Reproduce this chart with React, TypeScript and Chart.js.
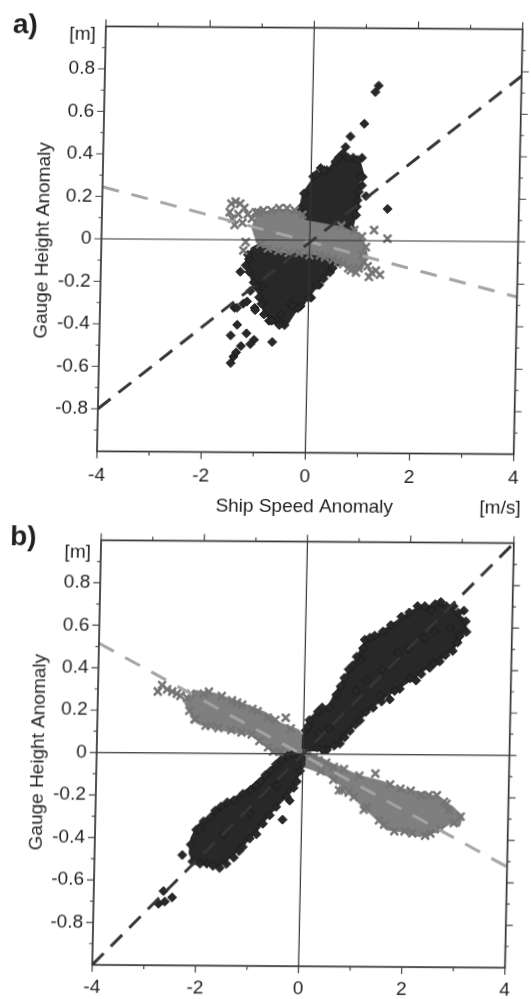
import React, { useEffect, useRef } from 'react';
import { Chart, registerables } from 'chart.js';

Chart.register(...registerables);

type Pt = [number, number];

// ---------- axes / ticks ----------
const xMajorTicks = [-4, -2, 0, 2, 4];
const xMinorTicks = [-3, -1, 1, 3];
const yMajorTicks = [-0.8, -0.6, -0.4, -0.2, 0, 0.2, 0.4, 0.6, 0.8];
const yMinorTicks = [-0.9, -0.7, -0.5, -0.3, -0.1, 0.1, 0.3, 0.5, 0.7, 0.9];

const xAxisTitle = 'Ship Speed Anomaly';
const yAxisTitle = 'Gauge Height Anomaly';
const yUnit = '[m]';
const xUnit = '[m/s]';

// ---------- panel a ----------
const aDarkCloud: Pt[] = [
  [-0.2, 0.14], [-0.14, 0.22], [0.0, 0.27], [0.12, 0.31], [0.3, 0.32], [0.42, 0.36], [0.58, 0.4],
  [0.75, 0.38], [0.92, 0.37], [0.98, 0.32], [0.9, 0.27], [0.93, 0.2], [0.86, 0.12], [0.8, 0.06],
  [0.72, 0.0], [0.6, -0.06], [0.49, -0.12], [0.35, -0.16], [0.23, -0.18], [0.1, -0.23], [0.01, -0.26],
  [-0.1, -0.3], [-0.27, -0.34], [-0.4, -0.39], [-0.65, -0.39], [-0.84, -0.34], [-0.94, -0.26],
  [-1.1, -0.18], [-1.2, -0.1], [-1.1, -0.04], [-0.8, 0.0], [-0.5, 0.05], [-0.3, 0.1],
];
const aDarkPoints: Pt[] = [
  [1.2, 0.7], [1.26, 0.73], [1.0, 0.55], [0.74, 0.49], [0.65, 0.44], [0.46, 0.37], [0.6, 0.41],
  [0.8, 0.39], [0.97, 0.39], [0.99, 0.3], [0.98, 0.26], [0.9, 0.19], [1.06, 0.21], [1.48, 0.15],
  [0.18, 0.34], [0.04, 0.3], [-0.13, 0.22], [-0.2, 0.15], [0.3, 0.33], [0.88, 0.12], [0.82, 0.05],
  [0.1, 0.31], [0.25, 0.33], [0.52, 0.39], [0.7, 0.39], [0.88, 0.38], [0.95, 0.3], [0.92, 0.23],
  [0.89, 0.16], [0.78, 0.06],
  [-1.22, -0.12], [-1.32, -0.15], [-1.16, -0.09], [-1.06, -0.2], [-1.12, -0.24], [-1.42, -0.32],
  [-1.25, -0.3], [-1.03, -0.32], [-0.34, -0.3], [-1.47, -0.58], [-1.42, -0.55], [-1.37, -0.53],
  [-1.28, -0.5], [-1.48, -0.45], [-1.18, -0.44], [-1.03, -0.47], [-1.1, -0.49], [-0.68, -0.48],
  [-1.36, -0.4], [-1.37, -0.32], [-1.18, -0.29], [-1.02, -0.33], [-0.58, -0.38], [-0.52, -0.35],
  [-0.29, -0.31], [0.05, -0.27], [-0.85, -0.35], [-0.75, -0.38], [-0.45, -0.4], [-0.15, -0.31],
  [0.2, -0.21], [0.4, -0.15], [0.55, -0.1], [-0.95, -0.27], [-0.9, -0.22],
  [0.45, -0.13], [0.28, -0.18], [0.15, -0.21], [0.0, -0.27], [-0.2, -0.32], [-0.55, -0.4],
  [-0.7, -0.38], [-0.9, -0.3], [-1.0, -0.22], [-1.15, -0.15], [-1.18, -0.07],
];
const aLightCloud: Pt[] = [
  [-1.1, 0.06], [-1.0, 0.12], [-0.7, 0.14], [-0.45, 0.14], [-0.22, 0.13], [-0.12, 0.09], [0.1, 0.08],
  [0.35, 0.07], [0.6, 0.06], [0.8, 0.04], [0.95, 0.02], [1.05, -0.02], [1.1, -0.08], [1.0, -0.13],
  [0.85, -0.14], [0.7, -0.12], [0.5, -0.09], [0.3, -0.07], [0.0, -0.06], [-0.3, -0.06], [-0.6, -0.05],
  [-0.85, -0.03], [-1.0, -0.01],
];
const aLightPoints: Pt[] = [
  [-1.52, 0.17], [-1.44, 0.18], [-1.35, 0.17], [-1.27, 0.15], [-1.55, 0.13], [-1.5, 0.1], [-1.38, 0.12],
  [-1.2, 0.12], [-1.12, 0.1], [-1.45, 0.07], [-1.3, 0.08], [-1.05, 0.13], [-1.23, -0.01], [-1.27, -0.05],
  [-0.9, 0.14], [-0.6, 0.15], [-0.3, 0.14], [-0.95, -0.02], [-0.6, -0.05], [-0.2, -0.06], [0.2, -0.07],
  [0.45, -0.09], [0.65, -0.11], [0.8, -0.14], [0.95, -0.13], [1.05, -0.1], [1.12, -0.12], [1.2, -0.15],
  [1.28, -0.14], [1.36, -0.16], [1.15, -0.17], [1.08, -0.03], [1.0, 0.02], [1.23, 0.05], [1.49, 0.01],
  [0.85, 0.05], [0.6, 0.07],
  [-1.0, 0.13], [-0.75, 0.14], [-0.45, 0.15], [-0.15, 0.12], [-0.8, -0.04], [-0.4, -0.06], [0.0, -0.07],
  [0.3, -0.08], [0.55, -0.1], [0.75, -0.13], [0.9, -0.15], [1.02, -0.07],
];
const aDarkFit: Pt[] = [[-4, -0.8], [4, 0.78]];
const aLightFit: Pt[] = [[-4, 0.245], [4, -0.26]];

// ---------- panel b ----------
const bDarkCloudUpper: Pt[] = [
  [0.0, 0.08], [0.1, 0.16], [0.27, 0.2], [0.49, 0.23], [0.62, 0.29], [0.8, 0.37], [0.96, 0.43],
  [1.12, 0.51], [1.3, 0.55], [1.5, 0.58], [1.85, 0.64], [2.16, 0.69], [2.4, 0.7], [2.61, 0.71],
  [2.85, 0.68], [3.05, 0.64], [3.1, 0.6], [3.02, 0.56], [2.86, 0.5], [2.61, 0.45], [2.4, 0.42],
  [2.2, 0.38], [1.85, 0.32], [1.6, 0.28], [1.34, 0.23], [1.09, 0.17], [0.9, 0.12], [0.71, 0.06],
  [0.5, 0.03], [0.3, 0.02], [0.1, 0.02], [0.0, 0.03],
];
const bDarkCloudLower: Pt[] = [
  [0.02, -0.01], [-0.2, 0.0], [-0.43, -0.03], [-0.62, -0.07], [-0.81, -0.12], [-1.0, -0.16],
  [-1.3, -0.21], [-1.6, -0.25], [-1.8, -0.3], [-2.0, -0.34], [-2.12, -0.4], [-2.15, -0.47],
  [-2.05, -0.52], [-1.82, -0.52], [-1.6, -0.53], [-1.44, -0.5], [-1.13, -0.43], [-0.87, -0.36],
  [-0.62, -0.28], [-0.4, -0.22], [-0.24, -0.18], [-0.11, -0.11], [0.02, -0.05],
];
const bDarkPoints: Pt[] = [
  [0.04, 0.11], [0.11, 0.16], [0.27, 0.2], [0.49, 0.22], [0.62, 0.28], [0.77, 0.36], [0.93, 0.42],
  [1.09, 0.45], [1.15, 0.54], [1.12, 0.5], [1.34, 0.56], [1.5, 0.58], [1.85, 0.65], [2.16, 0.7],
  [2.42, 0.68], [2.61, 0.72], [2.86, 0.7], [3.06, 0.68], [3.1, 0.63], [3.12, 0.58], [2.99, 0.56],
  [2.86, 0.49], [2.61, 0.44], [2.42, 0.41], [2.26, 0.38], [2.16, 0.35], [1.85, 0.31], [1.66, 0.26],
  [1.47, 0.28], [1.34, 0.22], [1.09, 0.16], [0.9, 0.11], [0.71, 0.05], [0.46, 0.02], [0.27, 0.03],
  [0.08, 0.13], [0.5, 0.12], [1.0, 0.3], [1.5, 0.4], [2.0, 0.5], [2.5, 0.58], [2.8, 0.6], [0.3, 0.1],
  [1.2, 0.35], [1.8, 0.48], [2.3, 0.55],
  [0.35, 0.22], [0.7, 0.32], [0.85, 0.4], [1.0, 0.46], [1.25, 0.55], [1.65, 0.61], [2.0, 0.67],
  [2.3, 0.7], [2.5, 0.71], [2.72, 0.7], [2.95, 0.67], [2.95, 0.53], [2.72, 0.47], [2.5, 0.43],
  [2.05, 0.36], [1.75, 0.3], [1.5, 0.25], [1.2, 0.2], [1.0, 0.14], [0.8, 0.08], [0.6, 0.04], [0.38, 0.02],
  [-0.05, -0.02], [-0.2, 0.0], [-0.43, -0.03], [-0.62, -0.08], [-0.81, -0.13], [-1.0, -0.17],
  [-1.32, -0.22], [-1.57, -0.25], [-1.76, -0.3], [-2.04, -0.36], [-2.14, -0.43], [-2.3, -0.48],
  [-2.1, -0.51], [-1.82, -0.52], [-1.57, -0.54], [-1.44, -0.52], [-1.3, -0.49], [-1.13, -0.44],
  [-0.87, -0.38], [-0.62, -0.29], [-0.37, -0.31], [-0.24, -0.22], [-0.11, -0.13], [-0.05, -0.08],
  [-2.65, -0.65], [-2.74, -0.71], [-2.48, -0.68], [-2.62, -0.7], [-1.98, -0.36], [-1.5, -0.38],
  [-1.0, -0.28], [-0.5, -0.15],
  [-0.3, -0.01], [-0.52, -0.05], [-0.72, -0.1], [-0.9, -0.15], [-1.15, -0.19], [-1.45, -0.23],
  [-1.68, -0.27], [-1.9, -0.32], [-1.95, -0.52], [-1.7, -0.53], [-1.2, -0.46], [-1.0, -0.4],
  [-0.75, -0.33], [-0.5, -0.25], [-0.3, -0.2], [-0.17, -0.16],
];
const bLightCloud: Pt[] = [
  [-2.3, 0.24], [-2.1, 0.29], [-1.76, 0.28], [-1.51, 0.26], [-1.06, 0.22], [-0.75, 0.19], [-0.45, 0.14],
  [-0.11, 0.11], [0.05, 0.06], [0.14, 0.0], [0.58, -0.05], [0.96, -0.09], [1.2, -0.11], [1.53, -0.13],
  [1.85, -0.16], [2.29, -0.18], [2.61, -0.2], [2.92, -0.25], [3.1, -0.29], [3.05, -0.33], [2.86, -0.32],
  [2.61, -0.36], [2.29, -0.38], [1.97, -0.36], [1.66, -0.35], [1.41, -0.29], [1.09, -0.22], [0.8, -0.15],
  [0.5, -0.1], [0.2, -0.07], [-0.05, -0.05], [-0.24, -0.02], [-0.49, 0.0], [-0.68, 0.03], [-1.0, 0.09],
  [-1.51, 0.11], [-2.01, 0.14], [-2.17, 0.18],
];
const bLightPoints: Pt[] = [
  [-2.84, 0.29], [-2.76, 0.32], [-2.66, 0.3], [-2.56, 0.29], [-2.47, 0.28], [-2.27, 0.26], [-2.22, 0.2],
  [-2.12, 0.16], [-1.95, 0.28], [-1.6, 0.27], [-1.3, 0.24], [-1.0, 0.21], [-0.7, 0.17], [-0.35, 0.17],
  [-1.8, 0.13], [-1.4, 0.11], [-1.0, 0.09], [-0.68, 0.03], [-0.45, 0.01], [-0.2, -0.02], [0.3, -0.03],
  [0.6, -0.06], [0.71, -0.17], [0.78, -0.17], [1.0, -0.2], [1.25, -0.25], [1.41, -0.09], [1.6, -0.33],
  [1.9, -0.16], [2.0, -0.36], [2.3, -0.19], [2.5, -0.37], [2.61, -0.19], [2.75, -0.22], [2.95, -0.32],
  [3.08, -0.29], [2.85, -0.26],
  [-2.4, 0.27], [-2.2, 0.28], [-1.85, 0.29], [-1.4, 0.25], [-1.2, 0.23], [-0.9, 0.2], [-0.55, 0.16],
  [-0.25, 0.12], [0.2, -0.02], [0.45, -0.04], [0.8, -0.07], [1.1, -0.1], [1.7, -0.14], [2.1, -0.17],
  [2.45, -0.19], [2.8, -0.23], [2.7, -0.35], [2.4, -0.38], [2.15, -0.37], [1.8, -0.36], [1.5, -0.31],
  [1.2, -0.26], [0.9, -0.18], [0.6, -0.12], [0.35, -0.08], [-0.1, -0.04], [-0.35, -0.01], [-0.58, 0.01],
  [-0.85, 0.06], [-1.2, 0.1], [-1.65, 0.12], [-1.9, 0.13], [-2.1, 0.16],
];
const bDarkFit: Pt[] = [[-4, -1.0], [4, 1.0]];
const bLightFit: Pt[] = [[-4, 0.515], [4, -0.525]];

// ---------- styling ----------
const FONT = "'Liberation Sans', Arial, Helvetica, sans-serif";
const TEXT = '#1f1f1f';
const DARK = '#282828';
const GRAY = '#7f7f7f';

interface Panel {
  label: string;
  darkClouds: Pt[][];
  lightClouds: Pt[][];
  darkPts: Pt[];
  lightPts: Pt[];
  darkFit: Pt[];
  lightFit: Pt[];
  lightBelow: boolean;
  showXTitle: boolean;
  height: number;
  top: number;
  pad: { top: number; right: number };
  yAxisW: number;
  xAxisH: number;
  xTickPad: number;
  labelPos: [number, number];
  unitDy: number;
  yTitleCenterDy: number;
}

const panels: Panel[] = [
  {
    label: 'a)', darkClouds: [aDarkCloud], lightClouds: [aLightCloud], darkPts: aDarkPoints,
    lightPts: aLightPoints, darkFit: aDarkFit, lightFit: aLightFit, lightBelow: false, showXTitle: true,
    height: 520, top: 0, pad: { top: 27.5, right: 14 }, yAxisW: 96, xAxisH: 67.5, xTickPad: 13,
    labelPos: [3, 35], unitDy: 13.5, yTitleCenterDy: 2,
  },
  {
    label: 'b)', darkClouds: [bDarkCloudUpper, bDarkCloudLower], lightClouds: [bLightCloud],
    darkPts: bDarkPoints, lightPts: bLightPoints, darkFit: bDarkFit, lightFit: bLightFit, lightBelow: true,
    showXTitle: false, height: 479, top: 520, pad: { top: 21, right: 8 }, yAxisW: 102, xAxisH: 33,
    xTickPad: 11, labelPos: [11, 26.7], unitDy: 17.3, yTitleCenterDy: 0,
  },
];

const toXY = (p: Pt[]) => p.map(([x, y]) => ({ x, y }));
const fmt = (v: number) => (Math.abs(v) < 1e-9 ? '0' : Math.abs(Math.abs(v) - 1) < 1e-9 ? '' : v.toFixed(1));

function buildConfig(p: Panel): any {
  const datasets: any[] = [];
  const darkCloudOrder = p.lightBelow ? 8 : 10;
  const darkPtsOrder = p.lightBelow ? 7 : 9;
  const lightCloudOrder = p.lightBelow ? 10 : 8;
  const lightPtsOrder = p.lightBelow ? 9 : 7;
  p.darkClouds.forEach((poly) =>
    datasets.push({
      type: 'line', data: toXY([...poly, poly[0]]), borderColor: DARK, backgroundColor: DARK,
      borderWidth: 3, fill: 'shape', pointRadius: 0, tension: 0, order: darkCloudOrder,
    }),
  );
  p.lightClouds.forEach((poly) =>
    datasets.push({
      type: 'line', data: toXY([...poly, poly[0]]), borderColor: GRAY, backgroundColor: GRAY,
      borderWidth: 3, fill: 'shape', pointRadius: 0, tension: 0, order: lightCloudOrder,
    }),
  );
  datasets.push({
    type: 'scatter', data: toXY(p.darkPts), pointStyle: 'rectRot', pointRadius: 4.5,
    backgroundColor: DARK, borderColor: '#1b1b1b', borderWidth: 1, order: darkPtsOrder,
  });
  datasets.push({
    type: 'scatter', data: toXY(p.lightPts), pointStyle: 'crossRot', pointRadius: 5.5,
    backgroundColor: '#747474', borderColor: '#747474', borderWidth: 2.5, order: lightPtsOrder,
  });
  datasets.push({
    type: 'line', data: toXY(p.lightFit), borderColor: '#a4a4a4', borderWidth: 3, borderDash: [17, 13],
    pointRadius: 0, fill: false, order: 2,
  });
  datasets.push({
    type: 'line', data: toXY(p.darkFit), borderColor: '#363636', borderWidth: 3, borderDash: [16, 10],
    pointRadius: 0, fill: false, order: 1,
  });

  const decor = {
    id: 'decor',
    afterDatasetsDraw(chart: any) {
      const { ctx, chartArea: a, scales } = chart;
      const x0 = scales.x.getPixelForValue(0);
      const y0 = scales.y.getPixelForValue(0);
      ctx.save();
      ctx.strokeStyle = '#333333';
      ctx.lineWidth = 1.2;
      ctx.beginPath();
      ctx.moveTo(x0, a.top);
      ctx.lineTo(x0, a.bottom);
      ctx.moveTo(a.left, y0);
      ctx.lineTo(a.right, y0);
      ctx.stroke();
      ctx.restore();
    },
    afterDraw(chart: any) {
      const { ctx, chartArea: a, scales } = chart;
      const sx = scales.x;
      const sy = scales.y;
      ctx.save();
      ctx.strokeStyle = '#333333';
      ctx.lineWidth = 1.7;
      ctx.strokeRect(a.left, a.top, a.right - a.left, a.bottom - a.top);
      ctx.lineWidth = 1.2;
      ctx.strokeStyle = '#444444';
      ctx.beginPath();
      const vt = (vals: number[], len: number) =>
        vals.forEach((v) => {
          const px = sx.getPixelForValue(v);
          ctx.moveTo(px, a.top);
          ctx.lineTo(px, a.top - len);
          ctx.moveTo(px, a.bottom);
          ctx.lineTo(px, a.bottom + len);
        });
      const ht = (vals: number[], len: number) =>
        vals.forEach((v) => {
          const py = sy.getPixelForValue(v);
          ctx.moveTo(a.left, py);
          ctx.lineTo(a.left - len, py);
          ctx.moveTo(a.right, py);
          ctx.lineTo(a.right + len, py);
        });
      vt(xMajorTicks, 7);
      vt(xMinorTicks, 4);
      ht(yMajorTicks, 7);
      ht(yMinorTicks, 3.5);
      ctx.stroke();
      ctx.fillStyle = TEXT;
      ctx.font = `bold 28px ${FONT}`;
      ctx.textAlign = 'left';
      ctx.textBaseline = 'alphabetic';
      ctx.fillText(p.label, p.labelPos[0], p.labelPos[1]);
      ctx.font = `19px ${FONT}`;
      ctx.textAlign = 'right';
      ctx.fillText(yUnit, a.left - 10, a.top + p.unitDy);
      if (p.showXTitle) {
        ctx.textAlign = 'center';
        ctx.fillText(xAxisTitle, (a.left + a.right) / 2, a.bottom + 59);
        ctx.textAlign = 'right';
        ctx.fillText(xUnit, a.right + 8, a.bottom + 59);
      }
      ctx.save();
      ctx.translate(a.left - 53.5, (a.top + a.bottom) / 2 + p.yTitleCenterDy);
      ctx.rotate(-Math.PI / 2);
      ctx.textAlign = 'center';
      ctx.fillText(yAxisTitle, 0, 0);
      ctx.restore();
      ctx.restore();
    },
  };

  return {
    type: 'scatter',
    data: { datasets },
    options: {
      animation: false,
      responsive: false,
      devicePixelRatio: 1,
      events: [],
      layout: { padding: { top: p.pad.top, right: p.pad.right, left: 0, bottom: 0 } },
      plugins: { legend: { display: false }, tooltip: { enabled: false } },
      scales: {
        x: {
          type: 'linear', position: 'bottom', min: -4, max: 4,
          grid: { display: false, drawTicks: false }, border: { display: false },
          ticks: {
            stepSize: 2, autoSkip: false, maxRotation: 0, padding: p.xTickPad, color: TEXT,
            font: { family: FONT, size: 19 }, callback: (v: number) => String(v),
          },
          afterFit: (s: any) => { s.height = p.xAxisH; },
        },
        y: {
          type: 'linear', position: 'left', min: -1, max: 1,
          grid: { display: false, drawTicks: false }, border: { display: false },
          ticks: {
            stepSize: 0.2, autoSkip: false, padding: 10, color: TEXT,
            font: { family: FONT, size: 19 }, callback: (v: number) => fmt(v),
          },
          afterFit: (s: any) => { s.width = p.yAxisW; },
        },
      },
    },
    plugins: [decor],
  };
}

function PanelChart({ panel }: { panel: Panel }) {
  const ref = useRef<HTMLCanvasElement | null>(null);
  useEffect(() => {
    if (!ref.current) return;
    const chart = new Chart(ref.current, buildConfig(panel));
    return () => chart.destroy();
  }, [panel]);
  return (
    <canvas
      ref={ref}
      width={531}
      height={panel.height}
      style={{ position: 'absolute', left: 0, top: panel.top, width: 531, height: panel.height }}
    />
  );
}

export default function App() {
  return (
    <div
      style={{
        position: 'absolute', left: 0, top: 0, width: 531, height: 999, background: '#ffffff',
        overflow: 'hidden',
      }}
    >
      <div
        style={{
          position: 'absolute', left: 0, top: 0, width: 531, height: 999,
          transform: 'rotate(0.4deg) skewX(-0.8deg)', transformOrigin: '265px 500px',
        }}
      >
        {panels.map((p) => (
          <PanelChart key={p.label} panel={p} />
        ))}
      </div>
    </div>
  );
}
